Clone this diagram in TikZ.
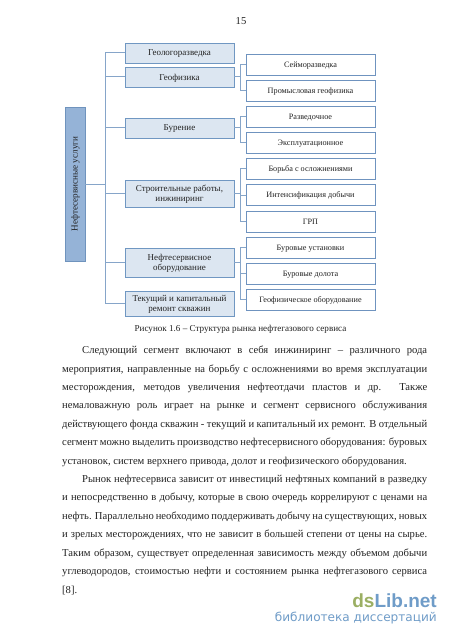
\documentclass[tikz,border=0pt]{standalone}
\usepackage{fontspec}
\setmainfont{Liberation Serif}
\setsansfont{DejaVu Sans}
\newfontfamily\wmbold{Liberation Sans}
\usetikzlibrary{positioning}
\definecolor{mainfill}{HTML}{95B3D7}
\definecolor{mainedge}{HTML}{6F93BD}
\definecolor{midfill}{HTML}{DCE6F1}
\definecolor{midedge}{HTML}{7097C2}
\definecolor{subedge}{HTML}{6F93BF}
\definecolor{linkcol}{HTML}{86A5C9}
\definecolor{inkcol}{HTML}{222222}
\definecolor{wmgreen}{HTML}{9BAF63}
\definecolor{wmblue}{HTML}{6F9CC8}
\tikzset{
  mainbox/.style={draw=mainedge,fill=mainfill,line width=0.9bp,minimum width=20bp,minimum height=154bp,inner sep=0pt,anchor=center},
  midbox/.style={draw=midedge,fill=midfill,line width=0.9bp,minimum width=109bp,inner sep=0pt,align=center,font=\fontsize{9bp}{10.2bp}\selectfont,text=inkcol,text depth=0pt},
  subbox/.style={draw=subedge,fill=white,line width=0.8bp,minimum width=129bp,minimum height=21bp,inner sep=0pt,align=center,font=\fontsize{8.2bp}{9.5bp}\selectfont,text=inkcol,text depth=0pt},
  link/.style={draw=linkcol,line width=1bp},
  bodyline/.style={anchor=west,inner sep=0pt,font=\fontsize{10.6bp}{12bp}\selectfont,text=inkcol},
}
\newcommand{\jl}[1]{\makebox[365bp][s]{#1}}
\newcommand{\jf}[1]{\makebox[345bp][s]{#1}}
\begin{document}
\begin{tikzpicture}[x=1bp,y=-1bp]
\useasboundingbox (0,0) rectangle (450,637);
\fill[white] (0,0) rectangle (450,637);

\node[bodyline,anchor=center] (pagenum) at (241,21) {15};

% boxes
\node[mainbox] (main) at (75,184) {};
\node[rotate=90,font=\fontsize{9.1bp}{10bp}\selectfont,text=inkcol,inner sep=0pt] (mainlabel) at (75.5,184) {Нефтесервисные услуги};

\node[midbox,minimum height=20bp] (m1) at (179.5,53) {Геологоразведка};
\node[midbox,minimum height=20bp] (m2) at (179.5,77) {Геофизика};
\node[midbox,minimum height=20bp] (m3) at (179.5,128) {Бурение};
\node[midbox,minimum height=27bp] (m4) at (179.5,193.5) {Строительные работы,\\инжиниринг};
\node[midbox,minimum height=29bp] (m5) at (179.5,262.5) {Нефтесервисное\\оборудование};
\node[midbox,minimum height=25bp] (m6) at (179.5,303.5) {Текущий и капитальный\\ремонт скважин};

\node[subbox] (s1) at (310.5,64.5) {Сейморазведка};
\node[subbox] (s2) at (310.5,90.5) {Промысловая геофизика};
\node[subbox] (s3) at (310.5,117) {Разведочное};
\node[subbox] (s4) at (310.5,142.5) {Эксплуатационное};
\node[subbox] (s5) at (310.5,168.5) {Борьба с осложнениями};
\node[subbox] (s6) at (310.5,195) {Интенсификация добычи};
\node[subbox] (s7) at (310.5,221.5) {ГРП};
\node[subbox] (s8) at (310.5,247.5) {Буровые установки};
\node[subbox] (s9) at (310.5,273.5) {Буровые долота};
\node[subbox] (s10) at (310.5,299.5) {Геофизическое оборудование};

% connectors
\coordinate (busA) at (105,184);
\draw[link] (main.east) -- (busA);
\foreach \c in {m1,m2,m3,m4,m5,m6} \draw[link] (\c.west) -| (busA);

\coordinate (busB) at (240,77);
\draw[link] (m2.east) -- (busB);
\foreach \c in {s1,s2} \draw[link] (\c.west) -| (busB);
\coordinate (busC) at (240,128);
\draw[link] (m3.east) -- (busC);
\foreach \c in {s3,s4} \draw[link] (\c.west) -| (busC);
\coordinate (busD) at (240,193.5);
\draw[link] (m4.east) -- (busD);
\foreach \c in {s5,s6,s7} \draw[link] (\c.west) -| (busD);
\coordinate (busE) at (240,262.5);
\draw[link] (m5.east) -- (busE);
\foreach \c in {s8,s9,s10} \draw[link] (\c.west) -| (busE);

% caption
\node[inner sep=0pt,font=\fontsize{9.1bp}{10bp}\selectfont,text=inkcol] (caption) at (240.5,329.5) {Рисунок 1.6 – Структура рынка нефтегазового сервиса};

% body text
\node[bodyline] (l1) at (82,351) {\jf{Следующий сегмент включают в себя инжиниринг – различного рода}};
\node[bodyline] (l2) at (62,369.4) {\jl{мероприятия, направленные на борьбу с осложнениями во время эксплуатации}};
\node[bodyline] (l3) at (62,387.8) {\jl{месторождения, методов увеличения нефтеотдачи пластов и др. Также}};
\node[bodyline] (l4) at (62,406.2) {\jl{немаловажную роль играет на рынке и сегмент сервисного обслуживания}};
\node[bodyline] (l5) at (62,424.6) {\jl{действующего фонда скважин - текущий и капитальный их ремонт. В отдельный}};
\node[bodyline] (l6) at (62,443) {\jl{сегмент можно выделить производство нефтесервисного оборудования: буровых}};
\node[bodyline] (l7) at (62,461.4) {установок, систем верхнего привода, долот и геофизического оборудования.};
\node[bodyline] (l8) at (82,479.8) {\jf{Рынок нефтесервиса зависит от инвестиций нефтяных компаний в разведку}};
\node[bodyline] (l9) at (62,498.2) {\jl{и непосредственно в добычу, которые в свою очередь коррелируют с ценами на}};
\node[bodyline] (l10) at (62,516.6) {\jl{нефть. Параллельно необходимо поддерживать добычу на существующих, новых}};
\node[bodyline] (l11) at (62,535) {\jl{и зрелых месторождениях, что не зависит в большей степени от цены на сырье.}};
\node[bodyline] (l12) at (62,553.4) {\jl{Таким образом, существует определенная зависимость между объемом добычи}};
\node[bodyline] (l13) at (62,571.8) {\jl{углеводородов, стоимостью нефти и состоянием рынка нефтегазового сервиса}};
\node[bodyline] (l14) at (62,590.2) {[8].};

% watermark
\node[anchor=base east,inner sep=0pt,font=\wmbold\bfseries\fontsize{19bp}{20bp}\selectfont] (wm1) at (437,607) {\textcolor{wmgreen}{ds}\textcolor{wmblue}{Lib.net}};
\node[anchor=base east,inner sep=0pt,font=\sffamily\fontsize{12.1bp}{14bp}\selectfont,text=wmblue] (wm2) at (437,621) {библиотека диссертаций};
\end{tikzpicture}
\end{document}
